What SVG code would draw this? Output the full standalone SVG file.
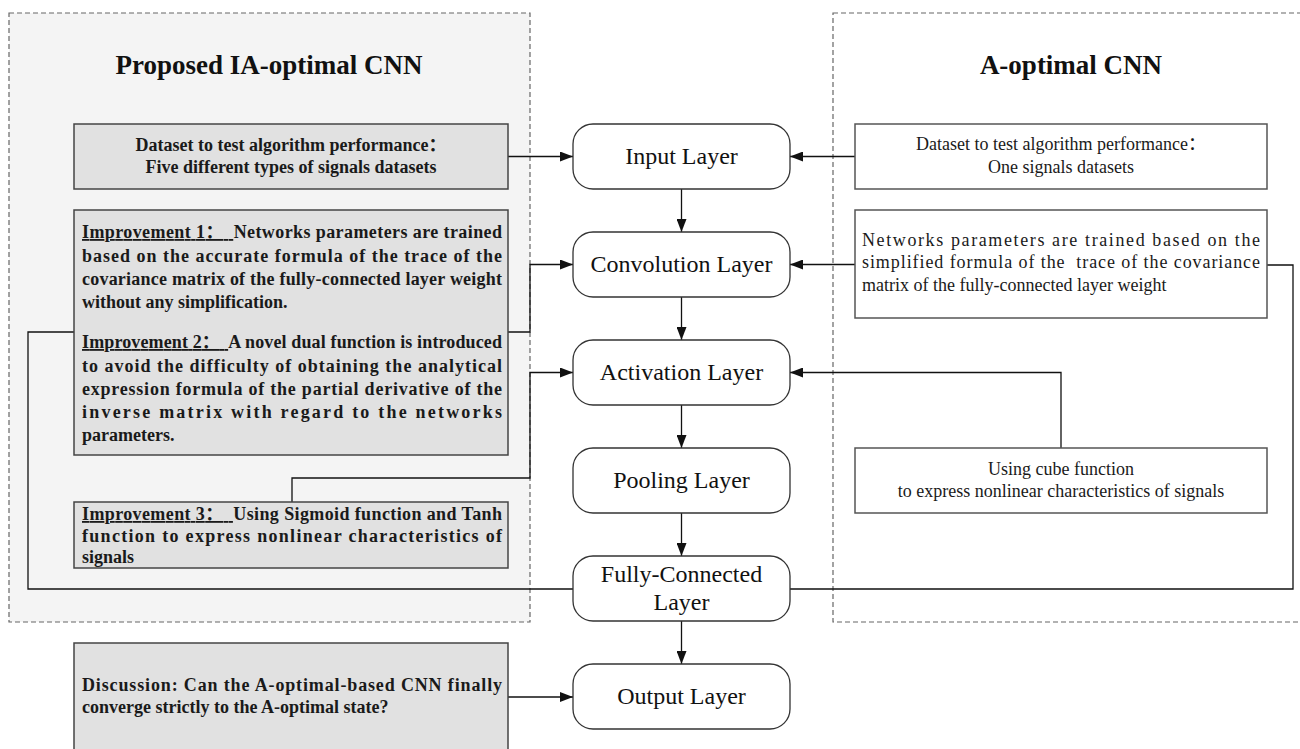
<svg xmlns="http://www.w3.org/2000/svg" width="1300" height="749" viewBox="0 0 1300 749">
<defs>
<style>
.cont{stroke:#666;stroke-width:1.2;stroke-dasharray:5,3}
.gbox{fill:#e1e1e1;stroke:#444;stroke-width:1.5}
.wbox{fill:#fff;stroke:#555;stroke-width:1.5}
.node{fill:#fff;stroke:#333;stroke-width:1.3}
.title{font-family:"Liberation Serif","Noto Sans CJK SC",serif;font-weight:bold;font-size:27px;fill:#111;text-anchor:middle}
.nt{font-family:"Liberation Serif",serif;font-size:24px;fill:#111;text-anchor:middle}
.bt{font-family:"Liberation Serif","Noto Sans CJK SC",serif;font-weight:bold;font-size:18px;fill:#1a1a1a;white-space:pre}
.bc{font-family:"Liberation Serif","Noto Sans CJK SC",serif;font-weight:bold;font-size:18px;fill:#1a1a1a;text-anchor:middle}
.rt{font-family:"Liberation Serif","Noto Sans CJK SC",serif;font-size:18px;fill:#1a1a1a;white-space:pre}
.rc{font-family:"Liberation Serif","Noto Sans CJK SC",serif;font-size:18px;fill:#1a1a1a;text-anchor:middle}
.u{text-decoration:underline}
.ln{fill:none;stroke:#111;stroke-width:1.3}
</style>
<marker id="ah" markerUnits="userSpaceOnUse" markerWidth="14" markerHeight="10" refX="13" refY="5" orient="auto">
<path d="M0,0 L13,5 L0,10 Z" fill="#111"/>
</marker>
</defs>
<rect width="1300" height="749" fill="#fff"/>

<g id="left-container">
<rect class="cont" x="9" y="13" width="521" height="609" fill="#f4f4f4"/>
<text class="title" x="269" y="74">Proposed IA-optimal CNN</text>
</g>
<g id="right-container">
<rect class="cont" x="833" y="13" width="480" height="609" fill="#fff"/>
<text class="title" x="1071" y="74">A-optimal CNN</text>
</g>

<g id="connectors">
<line class="ln" x1="681.5" y1="189" x2="681.5" y2="232" marker-end="url(#ah)"/>
<line class="ln" x1="681.5" y1="297" x2="681.5" y2="340" marker-end="url(#ah)"/>
<line class="ln" x1="681.5" y1="405" x2="681.5" y2="448" marker-end="url(#ah)"/>
<line class="ln" x1="681.5" y1="513" x2="681.5" y2="556" marker-end="url(#ah)"/>
<line class="ln" x1="681.5" y1="621" x2="681.5" y2="664" marker-end="url(#ah)"/>
<line class="ln" x1="508" y1="156.5" x2="573" y2="156.5" marker-end="url(#ah)"/>
<polyline class="ln" points="508,332 530,332 530,264.5 573,264.5" marker-end="url(#ah)"/>
<polyline class="ln" points="292,502 292,478 530,478 530,372.5 573,372.5" marker-end="url(#ah)"/>
<polyline class="ln" points="74,332 28,332 28,589 573,589"/>
<line class="ln" x1="508" y1="697" x2="573" y2="697" marker-end="url(#ah)"/>
<line class="ln" x1="855" y1="156.5" x2="790" y2="156.5" marker-end="url(#ah)"/>
<line class="ln" x1="855" y1="264.5" x2="790" y2="264.5" marker-end="url(#ah)"/>
<polyline class="ln" points="1061,448 1061,372.5 790,372.5" marker-end="url(#ah)"/>
<polyline class="ln" points="1267,265 1293,265 1293,589 790,589"/>
</g>

<g id="node-input"><rect class="node" x="573" y="124" width="217" height="65" rx="20"/><text class="nt" x="681.5" y="164">Input Layer</text></g>
<g id="node-conv"><rect class="node" x="573" y="232" width="217" height="65" rx="20"/><text class="nt" x="681.5" y="272">Convolution Layer</text></g>
<g id="node-act"><rect class="node" x="573" y="340" width="217" height="65" rx="20"/><text class="nt" x="681.5" y="380">Activation Layer</text></g>
<g id="node-pool"><rect class="node" x="573" y="448" width="217" height="65" rx="20"/><text class="nt" x="681.5" y="488">Pooling Layer</text></g>
<g id="node-fc"><rect class="node" x="573" y="556" width="217" height="65" rx="20"/><text class="nt" x="681.5" y="582">Fully-Connected</text><text class="nt" x="681.5" y="610">Layer</text></g>
<g id="node-output"><rect class="node" x="573" y="664" width="217" height="65" rx="20"/><text class="nt" x="681.5" y="704">Output Layer</text></g>

<g id="left-dataset">
<rect class="gbox" x="74" y="124" width="434" height="65"/>
<text class="bc" x="291" y="151">Dataset to test algorithm performance：</text>
<text class="bc" x="291" y="173">Five different types of signals datasets</text>
</g>

<g id="improvement-1-2">
<rect class="gbox" x="74" y="210" width="434" height="245"/>
<text class="bt" x="82" y="238" textLength="420" lengthAdjust="spacing"><tspan class="u">Improvement 1：  </tspan>Networks parameters are trained</text>
<text class="bt" x="82" y="261.5" textLength="420" lengthAdjust="spacing">based on the accurate formula of the trace of the</text>
<text class="bt" x="82" y="285" textLength="420" lengthAdjust="spacing">covariance matrix of the fully-connected layer weight</text>
<text class="bt" x="82" y="308">without any simplification.</text>
<text class="bt" x="82" y="348" textLength="420" lengthAdjust="spacing"><tspan class="u">Improvement 2：  </tspan>A novel dual function is introduced</text>
<text class="bt" x="82" y="371.5" textLength="420" lengthAdjust="spacing">to avoid the difficulty of obtaining the analytical</text>
<text class="bt" x="82" y="395" textLength="420" lengthAdjust="spacing">expression formula of the partial derivative of the</text>
<text class="bt" x="82" y="418" textLength="420" lengthAdjust="spacing">inverse matrix with regard to the networks</text>
<text class="bt" x="82" y="441">parameters.</text>
</g>

<g id="improvement-3">
<rect class="gbox" x="74" y="502" width="434" height="66"/>
<text class="bt" x="82" y="520" textLength="420" lengthAdjust="spacing"><tspan class="u">Improvement 3：  </tspan>Using Sigmoid function and Tanh</text>
<text class="bt" x="82" y="542" textLength="420" lengthAdjust="spacing">function to express nonlinear characteristics of</text>
<text class="bt" x="82" y="563">signals</text>
</g>

<g id="discussion">
<rect class="gbox" x="74" y="643" width="434" height="110"/>
<text class="bt" x="82" y="691" textLength="420" lengthAdjust="spacing">Discussion: Can the A-optimal-based CNN finally</text>
<text class="bt" x="82" y="713">converge strictly to the A-optimal state?</text>
</g>

<g id="right-dataset">
<rect class="wbox" x="855" y="124" width="412" height="65"/>
<text class="rc" x="1061" y="150">Dataset to test algorithm performance：</text>
<text class="rc" x="1061" y="173">One signals datasets</text>
</g>

<g id="right-networks">
<rect class="wbox" x="855" y="210" width="412" height="108"/>
<text class="rt" x="862" y="246" textLength="398" lengthAdjust="spacing">Networks parameters are trained based on the</text>
<text class="rt" x="862" y="268" textLength="398" lengthAdjust="spacing">simplified formula of the  trace of the covariance</text>
<text class="rt" x="862" y="291">matrix of the fully-connected layer weight</text>
</g>

<g id="right-cube">
<rect class="wbox" x="855" y="448" width="412" height="65"/>
<text class="rc" x="1061" y="475">Using cube function</text>
<text class="rc" x="1061" y="497">to express nonlinear characteristics of signals</text>
</g>
</svg>
